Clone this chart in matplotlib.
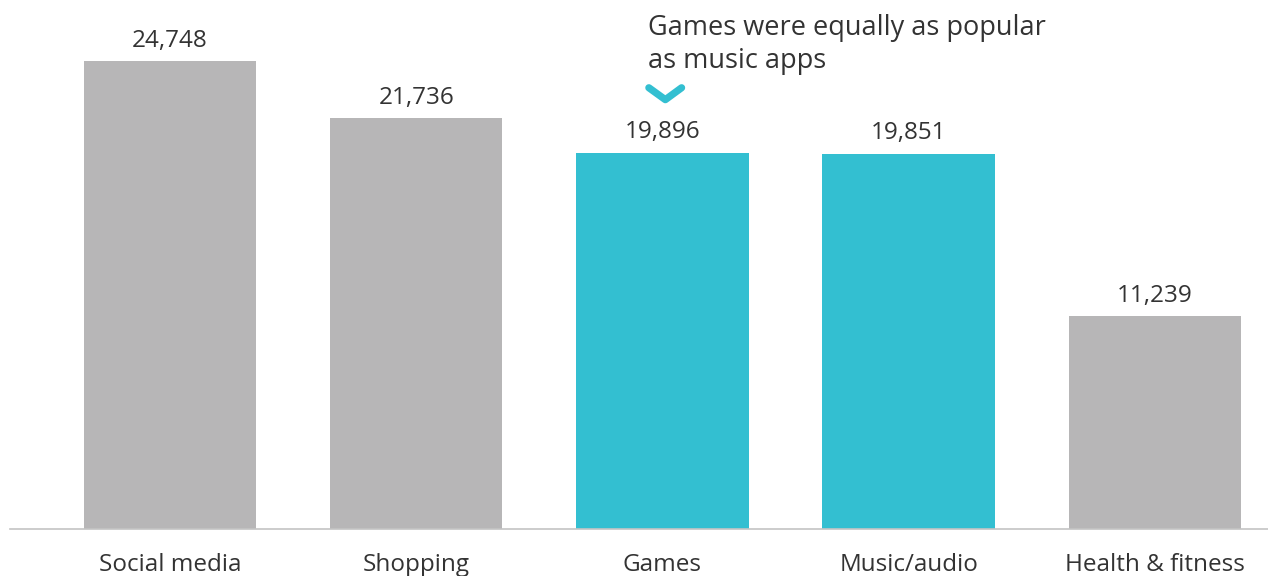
import matplotlib.pyplot as plt
import numpy as np

plt.rcParams['font.family'] = ['Open Sans', 'DejaVu Sans']

# Data
categories = ["Social media", "Shopping", "Games", "Music/audio", "Health & fitness"]
values = [24748, 21736, 19896, 19851, 11239]
highlight = [False, False, True, True, False]
note = "Games were equally as popular\nas music apps"

gray = '#b7b6b7'
teal = '#33bfd1'
text_col = '#333333'

fig = plt.figure(figsize=(12.68, 5.76), dpi=100)
ax = fig.add_axes([10 / 1268, 47 / 576, 1258 / 1268, 529 / 576])

x = np.arange(len(categories))
colors = [teal if h else gray for h in highlight]
bars = ax.bar(x, values, width=0.7, color=colors)

# Value labels
for xi, v in zip(x, values):
    ax.annotate(f"{v:,}", (xi, v), xytext=(0, 6), textcoords='offset points',
                ha='center', va='bottom', fontsize=17.5, color=text_col)

ax.set_xlim(-0.65, 4.46)
ax.set_ylim(0, 27970)
ax.set_xticks(x)
ax.set_xticklabels(categories, fontsize=17.5, color=text_col)
ax.tick_params(axis='x', length=0, pad=17)
ax.set_yticks([])
for s in ['top', 'right', 'left']:
    ax.spines[s].set_visible(False)
ax.spines['bottom'].set_color('#c4c4c4')
ax.spines['bottom'].set_linewidth(1.2)

# Annotation with chevron above Games
gi = categories.index("Games")
ax.plot([gi - 0.055, gi + 0.012, gi + 0.078], [23330, 22700, 23330], color=teal,
        lw=5.2, solid_capstyle='round', solid_joinstyle='round', clip_on=False)
ax.text(gi - 0.057, 24000, note, ha='left', va='bottom', fontsize=19.5,
        color=text_col, linespacing=1.25)

fig.savefig('out.png', dpi=100)
